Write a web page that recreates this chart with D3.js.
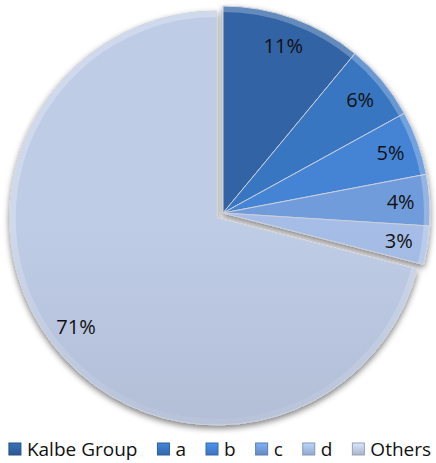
<!DOCTYPE html>
<html>
<head>
<meta charset="utf-8">
<script src="https://cdn.jsdelivr.net/npm/d3@7"></script>
<style>
  body { margin: 0; background: #fff; }
  svg { display: block; font-family: "Open Sans", sans-serif; }
</style>
</head>
<body>
<svg id="chart"></svg>
<script>
// Data
const categories = ["Kalbe Group", "a", "b", "c", "d", "Others"];
const shares = [11, 6, 5, 4, 3, 71];
const sliceColors = ["#2e5f9c", "#3670b8", "#407dc9", "#6b94d0", "#9db4db", "#b5c1da"];

const width = 436, height = 463;
const cx = 223, cy = 213, radius = 207;
const explode = 8;

const svg = d3.select("#chart")
    .attr("width", width)
    .attr("height", height);

const defs = svg.append("defs");

// soft shadow under the pie
const shadow = defs.append("filter")
    .attr("id", "shadow")
    .attr("x", "-10%").attr("y", "-10%")
    .attr("width", "120%").attr("height", "125%");
shadow.append("feGaussianBlur").attr("in", "SourceAlpha").attr("stdDeviation", 3);
shadow.append("feOffset").attr("dy", 3).attr("result", "blur");
shadow.append("feComponentTransfer").append("feFuncA").attr("type", "linear").attr("slope", 0.5);
const merge = shadow.append("feMerge");
merge.append("feMergeNode");
merge.append("feMergeNode").attr("in", "SourceGraphic");

// vertical shading for each slice colour
sliceColors.forEach((c, i) => {
    const g = defs.append("linearGradient")
        .attr("id", "grad" + i)
        .attr("gradientUnits", "userSpaceOnUse")
        .attr("x1", 0).attr("x2", 0)
        .attr("y1", cy - radius).attr("y2", cy + radius);
    g.append("stop").attr("offset", "0%").attr("stop-color", d3.color(c).brighter(0.15));
    g.append("stop").attr("offset", "100%").attr("stop-color", d3.color(c).darker(0.25));
});

// rim bevel: light on top, dark at the bottom
const rim = defs.append("linearGradient")
    .attr("id", "rim")
    .attr("gradientUnits", "userSpaceOnUse")
    .attr("x1", 0).attr("x2", 0)
    .attr("y1", cy - radius).attr("y2", cy + radius);
rim.append("stop").attr("offset", "0%").attr("stop-color", "#fff").attr("stop-opacity", 0.25);
rim.append("stop").attr("offset", "50%").attr("stop-color", "#fff").attr("stop-opacity", 0.05);
rim.append("stop").attr("offset", "100%").attr("stop-color", "#223").attr("stop-opacity", 0.22);

const pie = d3.pie().sort(null).value(d => d)(shares);

const arc = d3.arc().innerRadius(0).outerRadius(radius);
const rimArc = d3.arc().innerRadius(radius - 6).outerRadius(radius);
const labelArc = d3.arc().innerRadius(radius * 0.86).outerRadius(radius * 0.86);

// the last slice (Others) is pulled out along its bisector
const offset = (d, i) => {
    if (i !== shares.length - 1) return [0, 0];
    const a = (d.startAngle + d.endAngle) / 2;
    return [Math.sin(a) * explode, -Math.cos(a) * explode];
};

const pieG = svg.append("g")
    .attr("transform", `translate(${cx},${cy})`)
    .attr("filter", "url(#shadow)");

const slices = pieG.selectAll("g.slice")
    .data(pie)
    .join("g")
    .attr("class", "slice")
    .attr("transform", (d, i) => `translate(${offset(d, i)})`);

slices.append("path")
    .attr("d", arc)
    .attr("fill", (d, i) => `url(#grad${i})`)
    .attr("stroke", "#c9cfdb")
    .attr("stroke-width", 1);

slices.append("path")
    .attr("d", rimArc)
    .attr("fill", "url(#rim)");

// percentage labels
svg.append("g")
    .attr("transform", `translate(${cx},${cy})`)
    .selectAll("text")
    .data(pie)
    .join("text")
    .attr("transform", (d, i) => {
        const [x, y] = labelArc.centroid(d);
        const [ox, oy] = offset(d, i);
        return `translate(${x + ox},${y + oy})`;
    })
    .attr("text-anchor", "middle")
    .attr("dy", "0.35em")
    .attr("font-size", 20)
    .attr("fill", "#111")
    .text(d => d.value + "%");

// legend
const legend = svg.append("g").attr("class", "legend");
const boxSize = 12, boxGap = 6, itemGap = 20;

sliceColors.forEach((c, i) => {
    const g = defs.append("linearGradient")
        .attr("id", "lg" + i)
        .attr("x1", 0).attr("x2", 0).attr("y1", 0).attr("y2", 1);
    g.append("stop").attr("offset", "0%").attr("stop-color", d3.color(c).brighter(0.5));
    g.append("stop").attr("offset", "100%").attr("stop-color", d3.color(c).darker(0.2));
});

const items = legend.selectAll("g")
    .data(categories)
    .join("g");

items.append("rect")
    .attr("width", boxSize)
    .attr("height", boxSize)
    .attr("y", -boxSize / 2)
    .attr("fill", (d, i) => `url(#lg${i})`)
    .attr("stroke", (d, i) => d3.color(sliceColors[i]).darker(0.5))
    .attr("stroke-width", 1);

items.append("text")
    .attr("x", boxSize + boxGap)
    .attr("dy", "0.35em")
    .attr("font-size", 19)
    .attr("fill", "#111")
    .text(d => d);

let xPos = 0;
items.each(function () {
    const w = boxSize + boxGap + d3.select(this).select("text").node().getComputedTextLength();
    d3.select(this).attr("transform", `translate(${xPos},0)`);
    xPos += w + itemGap;
});
const total = xPos - itemGap;
legend.attr("transform", `translate(${(width - total) / 2 + 2},${449})`);
</script>
</body>
</html>
